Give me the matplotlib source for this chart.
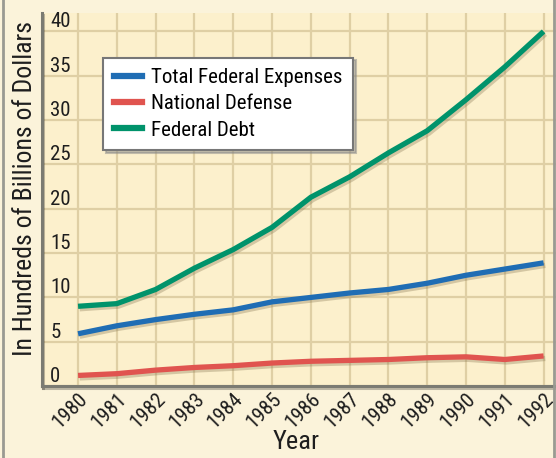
import matplotlib
matplotlib.use('Agg')
import matplotlib.pyplot as plt
import matplotlib.patheffects as pe
from matplotlib.lines import Line2D

plt.rcParams['font.family'] = ['Roboto Condensed', 'Roboto', 'DejaVu Sans']

# data (hundreds of billions of dollars)
years = [1980, 1981, 1982, 1983, 1984, 1985, 1986, 1987, 1988, 1989, 1990, 1991, 1992]
total_expenses = [5.9, 6.8, 7.5, 8.1, 8.6, 9.5, 10.0, 10.5, 10.9, 11.6, 12.5, 13.2, 13.9]
national_defense = [1.2, 1.4, 1.8, 2.1, 2.3, 2.6, 2.8, 2.9, 3.0, 3.2, 3.3, 3.0, 3.4]
federal_debt = [9.0, 9.3, 10.9, 13.3, 15.4, 17.9, 21.3, 23.6, 26.3, 28.8, 32.3, 36.0, 40.0]
y_ticks = [0, 5, 10, 15, 20, 25, 30, 35, 40]

series = [
    ('Total Federal Expenses', total_expenses, '#1f6db4'),
    ('National Defense', national_defense, '#e0544f'),
    ('Federal Debt', federal_debt, '#00936b'),
]

fig = plt.figure(figsize=(5.56, 4.58), dpi=100, facecolor='#fbf3da')
ax = fig.add_axes([0.0755, 0.157, 0.9245, 0.815])
ax.set_facecolor('#fcf0cc')

shadow = [pe.SimpleLineShadow(offset=(1.2, -1.8), shadow_color='#8a7a55', alpha=0.35),
          pe.Normal()]
for name, vals, col in series:
    ax.plot(years, vals, color=col, lw=3.8, solid_capstyle='butt',
            path_effects=shadow, label=name, zorder=3)

ax.set_xlim(1979.07, 1992.32)
ax.set_ylim(0, 42.1)
ax.set_xticks(years)
ax.set_yticks(y_ticks)
ax.grid(True, color='#dfcfa4', lw=1.6, zorder=0)
ax.set_axisbelow(True)

for s in ['top', 'right']:
    ax.spines[s].set_visible(False)
for s in ['left', 'bottom']:
    ax.spines[s].set_color('#7b7b72')
    ax.spines[s].set_linewidth(2.2)
    ax.spines[s].set_path_effects([pe.SimpleLineShadow(offset=(1, -1.5), alpha=0.25), pe.Normal()])

ax.tick_params(axis='both', length=0, colors='#1e1e1e')
ax.tick_params(axis='y', pad=-6, labelsize=15)
for t in ax.get_yticklabels():
    t.set_horizontalalignment('left')
    t.set_verticalalignment('bottom')
ax.set_xticklabels([str(y) for y in years], rotation=45, ha='right', va='top',
                   rotation_mode='anchor')
ax.tick_params(axis='x', pad=2.5, labelsize=15)

fig.text(0.045, 0.588, 'In Hundreds of Billions of Dollars', rotation=90,
         ha='center', va='center', fontsize=18.5, color='#1e1e1e')
fig.text(0.533, 0.035, 'Year', ha='center', va='center', fontsize=19, color='#1e1e1e')

handles = [Line2D([], [], color=c, lw=4.5) for _, _, c in series]
leg = ax.legend(handles, [n for n, _, _ in series], loc='upper left',
                bbox_to_anchor=(0.119, 0.88), borderaxespad=0, fancybox=False,
                shadow={'color': '#888888', 'alpha': 0.5}, framealpha=1,
                edgecolor='#777777', fontsize=15, handlelength=1.35,
                handletextpad=0.45, labelspacing=0.35, borderpad=0.5)
leg.get_frame().set_linewidth(1.5)

# thin grey frame edges of the figure
fig.add_artist(Line2D([0.005, 0.005], [0, 1], color='#9a9a92', lw=2))
fig.add_artist(Line2D([0.996, 0.996], [0, 1], color='#9a9a92', lw=2))

fig.savefig('out.png', dpi=100, facecolor=fig.get_facecolor())
